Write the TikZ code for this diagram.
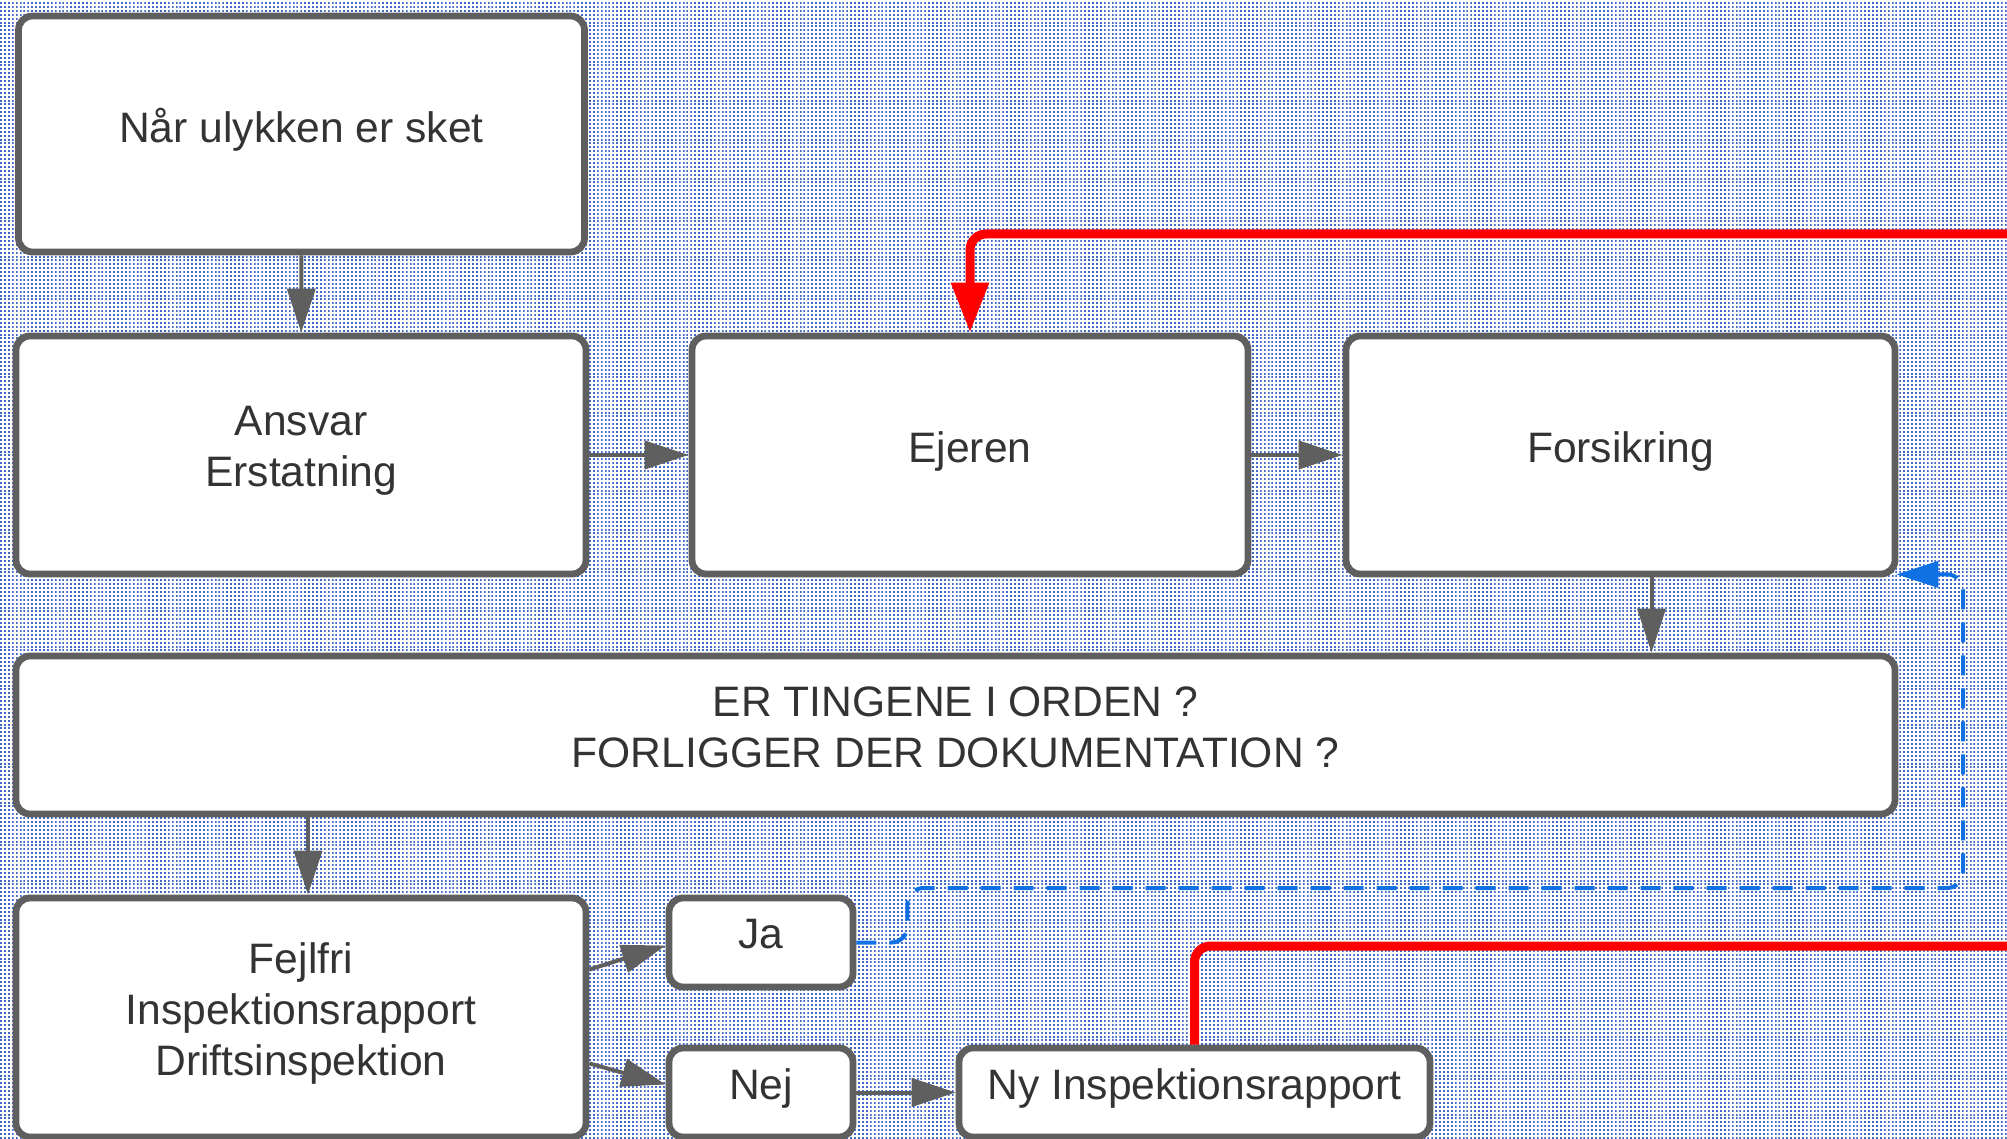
\documentclass[tikz,border=0pt]{standalone}
\usepackage{fontspec}
\setmainfont{Liberation Sans}
\usepackage{tikz}
\usetikzlibrary{patterns}
\usetikzlibrary{arrows.meta}
\usetikzlibrary{calc}

\definecolor{boxgray}{RGB}{95,95,95}
\definecolor{txtgray}{RGB}{51,51,51}
\definecolor{lucidred}{RGB}{255,0,0}
\definecolor{lucidblue}{RGB}{16,113,229}
\definecolor{dotblue}{RGB}{64,104,200}

% dotted paper
\pgfdeclarepatternformonly{bgdots}{\pgfqpoint{0pt}{0pt}}{\pgfqpoint{1pt}{1pt}}{\pgfqpoint{1.95pt}{1.95pt}}{%
  \pgfpathrectangle{\pgfqpoint{0pt}{0pt}}{\pgfqpoint{1pt}{1pt}}\pgfusepath{fill}}

\begin{document}
\begin{tikzpicture}[x=0.5pt,y=-0.5pt,
  lift/.style={execute at end node={\rule[-#1]{0pt}{0pt}}},
  box/.style={draw=boxgray,line width=3.4pt,rounded corners=7pt,fill=white,text=txtgray,
    align=center,inner sep=0pt,font=\fontsize{21.3}{25.5}\selectfont,lift=8.3pt},
  arr/.style={draw=boxgray,line width=2pt,-{Triangle[length=22pt,width=14pt]}},
  redline/.style={draw=lucidred,line width=4.5pt,rounded corners=8pt,-{Triangle[length=25pt,width=18pt]}},
  blueline/.style={draw=lucidblue,line width=2pt,dash pattern=on 10pt off 6.5pt,rounded corners=8pt,
    -{Triangle[length=21pt,width=13pt]}}]
% background
\useasboundingbox (0,0) rectangle (2007,1139);
\fill[white] (0,0) rectangle (2007,1139);
\fill[pattern=bgdots,pattern color=dotblue] (0,0) rectangle (2007,1139);

% boxes
\node[box,minimum width=283pt,minimum height=118pt] (ulykke) at (301.5,134) {Når ulykken er sket};
\node[box,minimum width=285pt,minimum height=119pt] (ansvar) at (301,455) {Ansvar\\Erstatning};
\node[box,minimum width=278pt,minimum height=119pt] (ejer) at (970,455) {Ejeren};
\node[box,minimum width=274.5pt,minimum height=119pt] (fors) at (1620.5,455) {Forsikring};
\node[box,minimum width=939.5pt,minimum height=79pt,lift=7pt] (orden) at (955.5,735) {ER TINGENE I ORDEN ?\\FORLIGGER DER DOKUMENTATION ?};
\node[box,minimum width=285pt,minimum height=119.5pt,lift=0pt] (fejlfri) at (301,1017.5) {Fejlfri\\Inspektionsrapport\\Driftsinspektion};
\node[box,minimum width=92pt,minimum height=44.5pt,lift=5pt] (ja) at (761,942.5) {Ja};
\node[box,minimum width=92pt,minimum height=44.5pt] (nej) at (761,1092.5) {Nej};
\node[box,minimum width=235.5pt,minimum height=44.5pt] (nyrap) at (1194.5,1092.5) {Ny Inspektionsrapport};

% arrows
\coordinate (fsout) at ($(fors.south)+(31,0)$);
\coordinate (ordout) at ($(fejlfri.north |- orden.south)+(7,0)$);
\draw[arr] (ulykke) -- (ansvar);
\draw[arr] (ansvar) -- (ejer);
\draw[arr] (ejer) -- (fors);
\draw[arr] (fsout) -- (fsout |- orden.north);
\draw[arr] (ordout) -- (ordout |- fejlfri.north);
\draw[arr] ([yshift=24pt]fejlfri.east) -- ([yshift=-1.5pt]ja.west);
\draw[arr] ([yshift=-23pt]fejlfri.east) -- ([yshift=4pt]nej.west);
\draw[arr] (nej) -- (nyrap);

% loops
\draw[redline] (nyrap.north) |- (2040,946) -- (2040,234) -| (ejer.north);
\draw[blueline] (ja.east) -- ++(51,0) |- (1963,888) |- ($(fors.south east)+(-2,-3)$);
\end{tikzpicture}
\end{document}
